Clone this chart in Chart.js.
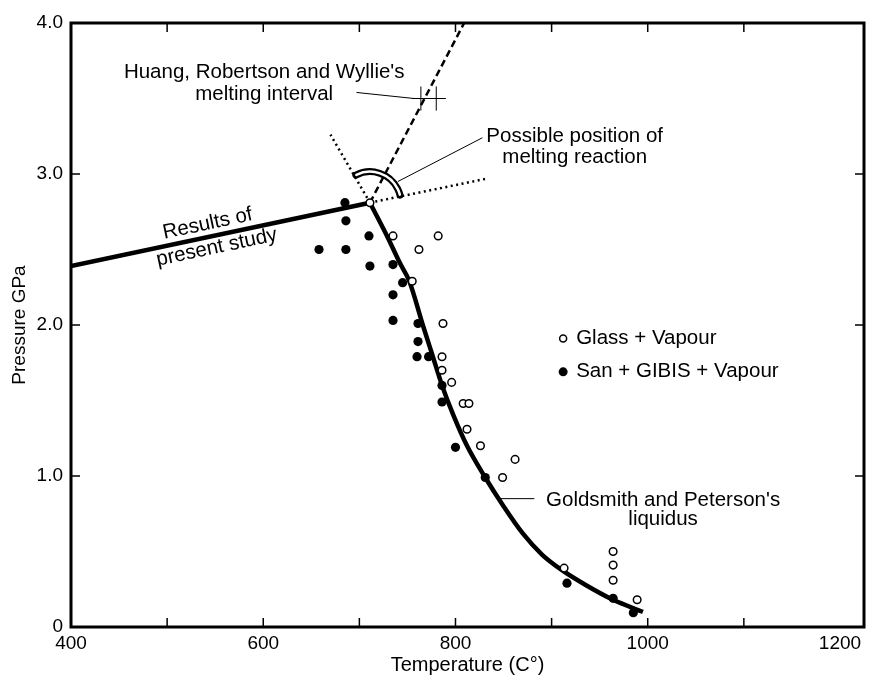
<!DOCTYPE html>
<html>

<head>
    <meta charset="UTF-8">
    <title>Melting relations</title>
    <script src="https://cdn.jsdelivr.net/npm/chart.js@4.4.1/dist/chart.umd.min.js"></script>
    <style>
        body { margin: 0; background: #fff; }
    </style>
</head>

<body>
    <canvas id="chart" width="886" height="685"></canvas>
    <script>
        // open circles: Glass + Vapour
        const glassT = [711, 735, 782, 762, 755, 787, 786, 786, 796, 808, 814, 812, 826, 862, 849, 913, 964, 964, 964, 989];
        const glassP = [2.81, 2.59, 2.59, 2.50, 2.29, 2.01, 1.79, 1.70, 1.62, 1.48, 1.48, 1.31, 1.20, 1.11, 0.99, 0.39, 0.50, 0.41, 0.31, 0.18];

        // filled circles: San + GIBIS + Vapour
        const sanT = [685, 686, 658, 686, 710, 711, 735, 745, 735, 735, 761, 761, 760, 772, 786, 786, 800, 831, 916, 964, 985];
        const sanP = [2.81, 2.69, 2.50, 2.50, 2.59, 2.39, 2.40, 2.28, 2.20, 2.03, 2.01, 1.89, 1.79, 1.79, 1.60, 1.49, 1.19, 0.99, 0.29, 0.19, 0.095];

        // results of present study (solid line up to the kink)
        const presentT = [400, 711];
        const presentP = [2.39, 2.81];

        // Goldsmith and Peterson's liquidus
        const liquidusT = [711, 728, 743, 752, 766, 776, 786, 798, 812, 830, 850, 870, 890, 910, 935, 964, 995];
        const liquidusP = [2.81, 2.60, 2.40, 2.29, 2.00, 1.80, 1.60, 1.40, 1.20, 1.00, 0.80, 0.62, 0.48, 0.38, 0.28, 0.18, 0.10];

        // possible positions of the melting reaction
        const dashT = [711, 809];
        const dashP = [2.81, 4.0];
        const dotLeftT = [711, 670];
        const dotLeftP = [2.81, 3.26];
        const dotRightT = [711, 833];
        const dotRightP = [2.81, 2.97];

        // Huang, Robertson and Wyllie's melting interval
        const intervalT = [755, 790];
        const intervalP = [3.5, 3.5];
        const intervalLowT = [764, 764];
        const intervalHighT = [780, 780];
        const intervalBarP = [3.42, 3.58];

        // leader lines for the notes
        const huangLeaderT = [697, 757];
        const huangLeaderP = [3.54, 3.50];
        const reactionLeaderT = [740, 828];
        const reactionLeaderP = [2.95, 3.24];
        const goldsmithLeaderT = [845, 882];
        const goldsmithLeaderP = [0.85, 0.85];

        // axes
        const xTickValues = [400, 500, 600, 700, 800, 900, 1000, 1100, 1200];
        const xTickLabels = ['400', '', '600', '', '800', '', '1000', '', '1200'];
        const yTickValues = [0, 1, 2, 3, 4];
        const yTickLabels = ['0', '1.0', '2.0', '3.0', '4.0'];

        const FONT = '"Liberation Sans", Arial, Helvetica, sans-serif';

        function pts(xs, ys) {
            return xs.map((x, i) => ({ x: x, y: ys[i] }));
        }

        function line(xs, ys, width, dash, extra) {
            return Object.assign({
                data: pts(xs, ys),
                showLine: true,
                borderColor: '#000',
                borderWidth: width,
                borderDash: dash || [],
                pointRadius: 0,
                fill: false,
                order: 2
            }, extra || {});
        }

        const notes = [
            { lines: ["Huang, Robertson and Wyllie's", 'melting interval'], x: 601, y: [3.67, 3.53] },
            { lines: ['Possible position of', 'melting reaction'], x: 924, y: [3.25, 3.11] },
            { lines: ["Goldsmith and Peterson's", 'liquidus'], x: 1016, y: [0.84, 0.71] }
        ];

        const decor = {
            id: 'decor',
            afterDatasetsDraw(c) {
                const ctx = c.ctx, a = c.chartArea;
                const xs = c.scales.x, ys = c.scales.y;
                const px = v => xs.getPixelForValue(v);
                const py = v => ys.getPixelForValue(v);
                ctx.save();

                // double arc round the kink
                const cx = px(glassT[0]), cy = py(glassP[0]);
                ctx.lineCap = 'round';
                ctx.beginPath();
                ctx.arc(cx, cy, 31, -117 * Math.PI / 180, -14 * Math.PI / 180);
                ctx.strokeStyle = '#000';
                ctx.lineWidth = 7;
                ctx.stroke();
                ctx.beginPath();
                ctx.arc(cx, cy, 31, -116 * Math.PI / 180, -15 * Math.PI / 180);
                ctx.strokeStyle = '#fff';
                ctx.lineWidth = 2.5;
                ctx.stroke();
                ctx.lineCap = 'butt';

                // frame
                ctx.strokeStyle = '#000';
                ctx.lineWidth = 3;
                ctx.strokeRect(a.left, a.top, a.right - a.left, a.bottom - a.top);

                // inward ticks
                ctx.lineWidth = 1.5;
                ctx.beginPath();
                xTickValues.slice(1, -1).forEach(v => {
                    const x = px(v);
                    ctx.moveTo(x, a.bottom); ctx.lineTo(x, a.bottom - 9);
                    ctx.moveTo(x, a.top); ctx.lineTo(x, a.top + 9);
                });
                yTickValues.slice(1, -1).forEach(v => {
                    const y = py(v);
                    ctx.moveTo(a.left, y); ctx.lineTo(a.left + 9, y);
                    ctx.moveTo(a.right, y); ctx.lineTo(a.right - 9, y);
                });
                ctx.stroke();

                // notes
                ctx.fillStyle = '#000';
                ctx.font = '20.5px ' + FONT;
                ctx.textAlign = 'center';
                ctx.textBaseline = 'middle';
                notes.forEach(n => {
                    n.lines.forEach((t, i) => ctx.fillText(t, px(n.x), py(n.y[i])));
                });

                // rotated label along the present-study line
                const x1 = px(presentT[0]), y1 = py(presentP[0]);
                const x2 = px(presentT[1]), y2 = py(presentP[1]);
                const ang = Math.atan2(y2 - y1, x2 - x1);
                const tAt = 545;
                const pAt = presentP[0] + (presentP[1] - presentP[0]) * (tAt - presentT[0]) / (presentT[1] - presentT[0]);
                ctx.save();
                ctx.translate(px(tAt), py(pAt));
                ctx.rotate(ang);
                ctx.fillText('Results of', 0, -13);
                ctx.fillText('present study', 4, 12);
                ctx.restore();

                // legend
                const legT = 912, legP = [1.91, 1.69];
                ctx.textAlign = 'left';
                ctx.beginPath();
                ctx.arc(px(legT), py(legP[0]), 3.5, 0, Math.PI * 2);
                ctx.fillStyle = '#fff';
                ctx.fill();
                ctx.lineWidth = 1.5;
                ctx.stroke();
                ctx.beginPath();
                ctx.arc(px(legT), py(legP[1]), 4.5, 0, Math.PI * 2);
                ctx.fillStyle = '#000';
                ctx.fill();
                ctx.fillText('Glass + Vapour', px(legT) + 13, py(legP[0]));
                ctx.fillText('San + GIBIS + Vapour', px(legT) + 13, py(legP[1]));

                ctx.restore();
            }
        };

        const ctx = document.getElementById('chart').getContext('2d');
        const chart = new Chart(ctx, {
            type: 'scatter',
            data: {
                datasets: [
                    {
                        label: 'Glass + Vapour',
                        data: pts(glassT, glassP),
                        pointStyle: 'circle',
                        pointRadius: 3.8,
                        pointBackgroundColor: '#fff',
                        pointBorderColor: '#000',
                        pointBorderWidth: 1.5,
                        order: 0
                    },
                    {
                        label: 'San + GIBIS + Vapour',
                        data: pts(sanT, sanP),
                        pointStyle: 'circle',
                        pointRadius: 4.6,
                        pointBackgroundColor: '#000',
                        pointBorderColor: '#000',
                        pointBorderWidth: 0,
                        order: 1
                    },
                    line(presentT, presentP, 4.5),
                    line(liquidusT, liquidusP, 4.5, null, { cubicInterpolationMode: 'monotone' }),
                    line(dashT, dashP, 2.5, [7, 4]),
                    line(dotLeftT, dotLeftP, 2.5, [2, 3.5]),
                    line(dotRightT, dotRightP, 2.5, [2, 3.5]),
                    line(intervalT, intervalP, 1),
                    line(intervalLowT, intervalBarP, 1),
                    line(intervalHighT, intervalBarP, 1),
                    line(huangLeaderT, huangLeaderP, 1),
                    line(reactionLeaderT, reactionLeaderP, 1),
                    line(goldsmithLeaderT, goldsmithLeaderP, 1)
                ]
            },
            options: {
                responsive: false,
                animation: false,
                devicePixelRatio: 1,
                layout: { padding: { top: 23, right: 22, left: 0, bottom: 0 } },
                plugins: {
                    legend: { display: false },
                    tooltip: { enabled: false }
                },
                scales: {
                    x: {
                        type: 'linear',
                        min: 400,
                        max: 1225,
                        afterBuildTicks: s => { s.ticks = xTickValues.map(v => ({ value: v })); },
                        afterFit: s => { s.height = 58; },
                        grid: { display: false, drawTicks: false },
                        border: { display: false },
                        ticks: {
                            color: '#000',
                            padding: 5,
                            maxRotation: 0,
                            autoSkip: false,
                            font: { family: FONT, size: 19 },
                            callback: v => xTickLabels[xTickValues.indexOf(v)]
                        },
                        title: {
                            display: true,
                            text: 'Temperature (C°)',
                            color: '#000',
                            font: { family: FONT, size: 20 },
                            padding: { top: 0, bottom: 8 }
                        }
                    },
                    y: {
                        type: 'linear',
                        min: 0,
                        max: 4,
                        afterBuildTicks: s => { s.ticks = yTickValues.map(v => ({ value: v })); },
                        afterFit: s => { s.width = 71; },
                        grid: { display: false, drawTicks: false },
                        border: { display: false },
                        ticks: {
                            color: '#000',
                            padding: 8,
                            font: { family: FONT, size: 19 },
                            callback: v => yTickLabels[yTickValues.indexOf(v)]
                        },
                        title: {
                            display: true,
                            text: 'Pressure GPa',
                            color: '#000',
                            font: { family: FONT, size: 19 },
                            padding: { top: 8, bottom: 0 }
                        }
                    }
                }
            },
            plugins: [decor]
        });
    </script>
</body>

</html>
